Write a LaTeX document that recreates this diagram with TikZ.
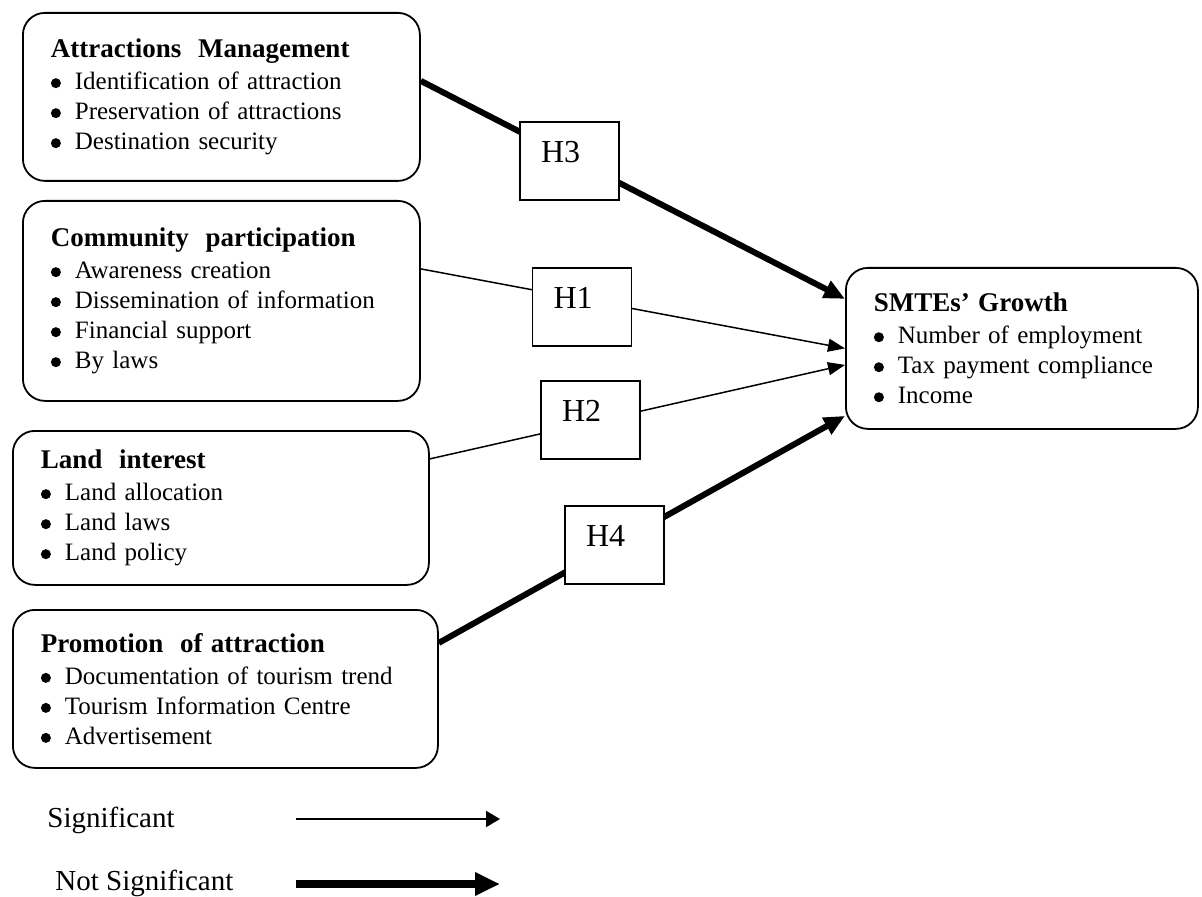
\documentclass[tikz,border=0pt]{standalone}
\usepackage{fontspec}
\setmainfont{Liberation Serif}
\usetikzlibrary{positioning}
\usetikzlibrary{arrows.meta,backgrounds}

\newcommand{\bitem}{\makebox[12pt][l]{\tikz[baseline=-3.2pt]\fill (2.6pt,0) circle (2.5pt);}}
\newcommand{\fhead}[1]{{\fontsize{13.5}{15}\selectfont\bfseries #1}\\[1pt]}

\begin{document}
\begin{tikzpicture}[%
    x=0.5pt, y=-0.5pt,
factor/.style={rectangle, draw, rounded corners=11pt, line width=0.9pt, align=left, anchor=north west, inner xsep=14pt, font=\fontsize{12.5}{15}\selectfont},
hypo/.style={rectangle, draw, fill=white, line width=0.9pt, minimum width=49.5pt, minimum height=39pt, text width=28.5pt, inner xsep=10.5pt, align=left, text depth=9.5pt, font=\fontsize{16}{18}\selectfont},
sig/.style={-{Triangle[length=8.5pt,width=6.5pt]}, line width=0.75pt},
notsig/.style={-{Triangle[length=10.5pt,width=9pt]}, line width=3pt},
legend/.style={anchor=base west, inner sep=0pt, font=\fontsize{14.5}{16}\selectfont}
]

\useasboundingbox (0,0) rectangle (1202,897);

% factor boxes
\node[factor, text width=170.5pt, minimum height=84pt] (am) at (22,12) {\fhead{Attractions\ \ Management}
\bitem Identification of attraction\\
\bitem Preservation of attractions\\
\bitem Destination security};

\node[factor, text width=170.5pt, minimum height=100pt] (cp) at (22,200) {\fhead{Community\ \ participation}
\bitem Awareness creation\\
\bitem Dissemination of information\\
\bitem Financial support\\
\bitem By laws};

\node[factor, text width=180pt, minimum height=77pt] (li) at (12,430) {\fhead{Land\ \ interest}
\bitem Land allocation\\
\bitem Land laws\\
\bitem Land policy};

\node[factor, text width=184.5pt, minimum height=79pt] (pa) at (12,609) {\fhead{Promotion\ \ of attraction}
\bitem Documentation of tourism trend\\
\bitem Tourism Information Centre\\
\bitem Advertisement};

% growth box
\node[factor, text width=148pt, minimum height=80.5pt] (smte) at (845,267) {\fhead{SMTEs’ Growth}
\bitem Number of employment\\
\bitem Tax payment compliance\\
\bitem Income};

% hypotheses
\node[hypo] (h3) at (569.5,161) {H3};
\node[hypo] (h1) at (582,307) {H1};
\node[hypo] (h2) at (590.5,420) {H2};
\node[hypo] (h4) at (614.5,545) {H4};

% paths
\begin{pgfonlayer}{background}
\draw[notsig] ([yshift=8pt]am.east) -- ([yshift=24.75pt]smte.west);
\draw[sig] ([yshift=16pt]cp.east) -- (smte.west);
\draw[sig] ([yshift=24.5pt]li.east) -- ([yshift=-8.25pt]smte.west);
\draw[notsig] ([yshift=23pt]pa.east) -- ([yshift=-33.75pt]smte.west);
\end{pgfonlayer}

% legend
\node[legend] (sigtext) at (47,827) {Significant};
\node[legend] (nstext) at (55,890) {Not Significant};
\coordinate (sigfrom) at (296,819);
\coordinate (sigto) at (500,819);
\coordinate (nsfrom) at (296,884);
\coordinate (nsto) at (500,884);
\draw[-{Triangle[length=7pt,width=8pt]}, line width=1pt] (sigfrom) -- (sigto);
\draw[-{Triangle[length=12.5pt,width=11pt]}, line width=4pt] (nsfrom) -- (nsto);

\end{tikzpicture}
\end{document}
